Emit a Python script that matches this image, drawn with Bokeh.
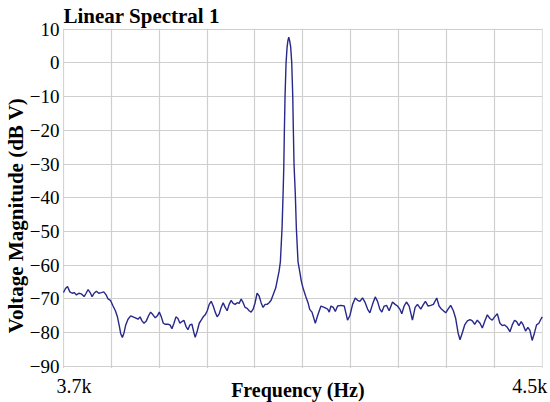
from bokeh.plotting import figure
from bokeh.models import Range1d, FixedTicker, Label, CustomJSTickFormatter, BoxAnnotation
from bokeh.embed import file_html
from bokeh.resources import INLINE

# ---- data ----
freq_hz = [
    3700.0, 3703.3, 3706.7, 3710.6, 3714.5, 3717.8, 3721.7, 3725.6, 3730.0, 3734.5,
    3737.8, 3741.1, 3744.5, 3747.8, 3751.1, 3755.0, 3758.9, 3763.4, 3767.3, 3771.2,
    3774.5, 3778.4, 3782.8, 3786.7, 3790.1, 3793.4, 3795.6, 3798.4, 3801.2, 3804.0,
    3807.8, 3812.3, 3816.2, 3820.1, 3824.5, 3827.9, 3831.2, 3834.5, 3838.4, 3842.3,
    3845.6, 3849.5, 3853.4, 3856.8, 3860.1, 3863.4, 3866.8, 3870.1, 3874.6, 3877.9,
    3881.2, 3884.6, 3887.9, 3891.2, 3894.6, 3897.9, 3901.2, 3904.6, 3907.9, 3911.2,
    3914.6, 3917.9, 3920.1, 3923.5, 3926.8, 3930.1, 3933.5, 3936.8, 3940.2, 3943.5,
    3946.8, 3950.2, 3953.5, 3956.8, 3960.2, 3963.5, 3966.8, 3970.2, 3973.5, 3976.8,
    3980.2, 3983.5, 3986.8, 3990.2, 3993.5, 3996.9, 4000.2, 4003.5, 4006.9, 4010.2,
    4013.5, 4016.9, 4020.2, 4023.5, 4026.9, 4030.2, 4033.5, 4036.9, 4040.2, 4043.6,
    4046.9,
    4050.2, 4054.7, 4056.9, 4060.2, 4062.4, 4065.2, 4066.9, 4068.1, 4069.1, 4070.2,
    4071.9, 4073.6, 4075.0, 4076.4, 4077.9, 4079.7, 4081.4, 4083.1, 4084.1, 4085.2,
    4087.4, 4089.1, 4091.9, 4094.7, 4097.4, 4100.2, 4104.7, 4108.6, 4111.4,
    4115.2, 4120.8, 4124.7, 4130.2, 4135.8, 4141.4, 4144.1, 4146.9, 4150.8, 4154.2,
    4158.0, 4163.6, 4169.2, 4174.7, 4178.6, 4183.1, 4187.5, 4191.4, 4195.3, 4199.7,
    4204.2, 4208.1, 4212.0, 4216.4, 4220.9, 4224.8, 4228.6, 4232.0, 4235.9, 4239.8,
    4244.2, 4249.8, 4254.2, 4258.1, 4262.0, 4265.3, 4269.2, 4273.1, 4277.6, 4283.1,
    4287.6, 4291.5, 4297.0, 4301.5, 4304.8, 4309.3, 4313.7, 4318.1, 4323.7, 4327.6,
    4331.5, 4334.8, 4338.7, 4342.6, 4347.0, 4351.5, 4355.4, 4359.3, 4362.6, 4366.5,
    4370.4, 4374.9, 4379.3, 4383.2, 4387.1, 4391.5, 4396.0, 4399.9, 4403.8, 4408.2,
    4412.6, 4416.5, 4420.4, 4424.9, 4429.3, 4433.2, 4437.1, 4441.6, 4446.0, 4449.9,
    4453.8, 4457.1, 4461.0, 4464.9, 4468.2, 4472.1, 4476.0, 4479.4, 4483.2, 4487.1,
    4490.5, 4494.4, 4498.3, 4500.0,
]

magnitude_dbv = [
    -68.1, -66.9, -66.3, -67.9, -68.3, -68.1, -68.8, -68.3, -68.5, -69.3,
    -68.3, -67.2, -68.1, -69.3, -68.3, -67.7, -68.3, -68.1, -67.9, -68.8,
    -70.0, -70.4, -72.1, -73.5, -75.3, -78.1, -80.3, -81.4, -80.0, -77.7,
    -76.0, -75.0, -75.3, -75.6, -76.0, -75.3, -76.5, -77.2, -76.5, -74.9,
    -73.9, -74.7, -75.6, -75.0, -73.9, -75.3, -77.2, -77.5, -77.5, -77.7,
    -78.8, -77.2, -75.3, -75.8, -77.2, -76.7, -76.3, -78.1, -79.1, -77.7,
    -77.5, -80.0, -81.4, -79.5, -77.2, -76.3, -75.3, -74.7, -73.5, -71.6,
    -70.7, -72.1, -73.9, -75.3, -74.4, -72.5, -71.1, -72.5, -73.5, -71.6,
    -70.4, -71.3, -71.6, -71.1, -71.3, -70.0, -71.1, -72.5, -72.8, -73.5,
    -73.9, -73.0, -71.1, -68.3, -69.1, -71.1, -72.5, -71.6, -71.6, -71.1,
    -70.4,
    -68.8, -66.7, -64.7, -61.8, -59.0, -49.0, -39.0, -31.0, -20.0, -10.0,
    0.0, 4.6, 6.6, 7.6, 6.6, 4.6, 0.0, -10.0, -20.0, -30.0,
    -39.0, -49.0, -59.0, -61.8, -64.7, -66.7, -69.2, -71.1, -73.1,
    -73.9, -77.2, -74.9, -72.1, -72.5, -73.0, -73.9, -72.1, -72.5, -73.7,
    -72.1, -71.9, -72.1, -76.3, -74.9, -71.6, -69.7, -70.4, -70.7, -69.7,
    -71.1, -73.0, -74.1, -71.6, -69.4, -70.7, -73.0, -73.9, -72.1, -71.9,
    -73.5, -70.9, -71.6, -72.1, -73.0, -74.4, -72.1, -70.9, -72.1, -76.3,
    -72.5, -71.6, -73.0, -71.6, -70.7, -72.1, -71.9, -71.6, -69.7, -72.1,
    -73.0, -73.5, -74.1, -73.0, -71.9, -73.5, -75.8, -80.0, -82.1, -80.0,
    -77.7, -76.5, -76.1, -76.5, -77.5, -76.3, -77.2, -78.6, -76.7, -74.7,
    -75.8, -76.3, -75.3, -74.4, -77.2, -77.9, -77.7, -78.4, -79.7, -77.7,
    -76.3, -76.7, -77.9, -76.7, -77.7, -79.5, -78.4, -79.3, -82.3, -80.0,
    -77.7, -77.2, -75.8, -75.3,
]

grid_freqs = [3700, 3780, 3860, 3940, 4020, 4100, 4180, 4260, 4340, 4420, 4500]
x_tick_values = [3700, 4500]
x_tick_labels = ["3.7k", "4.5k"]
y_ticks = [-90, -80, -70, -60, -50, -40, -30, -20, -10, 0, 10]
x_title = "Frequency (Hz)"
y_title = "Voltage Magnitude (dB V)"

FONT = "Liberation Serif"
GRID = "#cfcfcf"
# the frame is a little larger than the 3.7k-4.5k / -90..10 box, so that
# the bottom texts fit inside it; the margins are blanked out below
X_LEFT, X_RIGHT = 3688.3, 4513.8
Y_BOTTOM, Y_TOP = -100.7, 10.2

p = figure(width=550, height=402,
           x_range=Range1d(X_LEFT, X_RIGHT), y_range=Range1d(Y_BOTTOM, Y_TOP),
           output_backend="svg", toolbar_location=None,
           title="Linear Spectral 1",
           min_border_left=55, min_border_right=0,
           min_border_top=0, min_border_bottom=0)

p.background_fill_color = "white"
p.border_fill_color = "white"
p.outline_line_color = None

p.title.text_font = FONT
p.title.text_font_size = "21px"
p.title.text_font_style = "bold"
p.title.text_color = "black"
p.title.align = "left"
p.title.standoff = 2
p.title.offset = 7

# y axis
p.yaxis.ticker = FixedTicker(ticks=y_ticks)
p.yaxis.formatter = CustomJSTickFormatter(
    code="return tick < 0 ? '\u2212' + Math.abs(tick) : String(tick);")
p.yaxis.axis_label = y_title
p.yaxis.axis_label_text_font = FONT
p.yaxis.axis_label_text_font_size = "21px"
p.yaxis.axis_label_text_font_style = "bold"
p.yaxis.axis_label_text_color = "black"
p.yaxis.axis_label_standoff = -1
p.yaxis.major_label_text_font = FONT
p.yaxis.major_label_text_font_size = "19px"
p.yaxis.major_label_text_font_style = "normal"
p.yaxis.major_label_text_color = "black"
p.yaxis.major_label_standoff = -3
p.yaxis.axis_line_color = None
p.yaxis.major_tick_line_color = None
p.yaxis.minor_tick_line_color = None
p.yaxis.major_tick_out = 0
p.yaxis.major_tick_in = 0

# x axis texts are drawn as labels inside the frame
p.below = []

xg = p.xgrid[0]
xg.axis = None
xg.ticker = FixedTicker(ticks=grid_freqs)
p.ygrid.ticker = FixedTicker(ticks=y_ticks)
for g in (p.xgrid, p.ygrid):
    g.grid_line_color = GRID
    g.grid_line_width = 1.2

# blank margins around the plotting box (drawn right after the grid)
for l, r, b, t in [(X_LEFT, X_RIGHT, Y_BOTTOM, -90.45),
                   (X_LEFT, 3699.3, Y_BOTTOM, Y_TOP),
                   (4500.7, X_RIGHT, Y_BOTTOM, Y_TOP)]:
    p.add_layout(BoxAnnotation(left=l, right=r, bottom=b, top=t,
                               fill_color="white", fill_alpha=1.0, line_alpha=0.0,
                               level="underlay"))

p.line(freq_hz, magnitude_dbv, line_color="#28288a", line_width=1.4)

for xv, txt, align, dx in zip(x_tick_values, x_tick_labels, ["left", "right"], [-7, 5]):
    p.add_layout(Label(x=xv, y=-90, text=txt, text_align=align,
                       text_baseline="middle", x_offset=dx, y_offset=-20,
                       text_font=FONT, text_font_size="20px", text_color="black"))

p.add_layout(Label(x=4100, y=-90, text=x_title, text_align="center",
                   text_baseline="middle", x_offset=-5, y_offset=-24,
                   text_font=FONT, text_font_size="20px", text_font_style="bold",
                   text_color="black"))

open("out.html", "w").write(file_html(p, INLINE))
